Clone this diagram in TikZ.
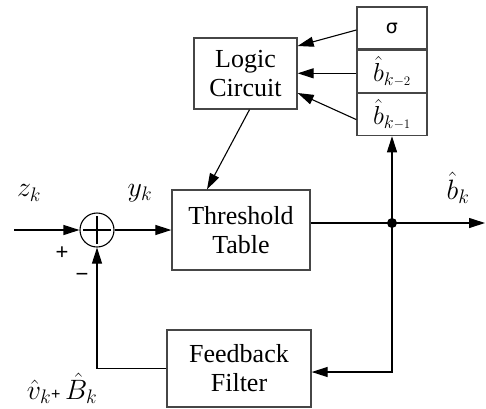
\RequirePackage{fix-cm}
\documentclass[tikz,border=0pt]{standalone}
\usepackage{fontspec}
\setmainfont{Liberation Serif}
\newfontfamily\symfont{DejaVu Sans}
\newfontfamily\signfont{Liberation Sans}
\usepackage{tikz}
\usetikzlibrary{arrows.meta, positioning}
\definecolor{boxgray}{RGB}{70, 70, 70}

\begin{document}
\begin{tikzpicture}[
  x=1pt, y=-1pt,
  block/.style={rectangle, draw=boxgray, line width=1.3pt, align=center,
                inner sep=0pt, font=\fontsize{26}{29}\selectfont},
  cell/.style={rectangle, draw=boxgray, line width=1.3pt, inner sep=0pt,
               minimum width=70pt, minimum height=42pt, font=\fontsize{26}{28}\selectfont},
  arrow/.style={-{Triangle[length=16pt, width=10pt]}, line width=1.1pt},
  wire/.style={line width=1.1pt},
  lbl/.style={inner sep=0pt, font=\fontsize{28}{30}\selectfont},
  sign/.style={inner sep=0pt, font=\signfont\fontsize{22}{24}\selectfont},
]
  \useasboundingbox (0,0) rectangle (486,408);

  % Register stack
  \node[cell] (sig) at (392,28) {{\symfont\fontsize{19}{20}\selectfont σ}};
  \node[cell, below=0pt of sig] (bk2) {$\hat{b}_{k\scriptscriptstyle-2}$};
  \node[cell, below=0pt of bk2] (bk1) {$\hat{b}_{k\scriptscriptstyle-1}$};

  % Main blocks
  \node[block, minimum width=103pt, minimum height=71pt] (logic) at (245.5,73.5) {Logic\\Circuit};
  \node[block, minimum width=138pt, minimum height=80pt] (thr) at (241,230) {Threshold\\Table};
  \node[block, minimum width=144pt, minimum height=77pt] (fb) at (239,368.5) {Feedback\\Filter};
  \node[circle, draw, line width=1.1pt, minimum size=34pt, inner sep=0pt] (sum) at (97,230) {};
  \draw[wire, shorten <=4pt, shorten >=4pt] (sum.north) -- (sum.south);
  \draw[wire, shorten <=4pt, shorten >=4pt] (sum.west) -- (sum.east);

  \coordinate (in) at (14,230);
  \coordinate (jn) at (392,223);
  \coordinate (out) at (485,223);
  \fill (jn) circle (5pt);

  % Labels
  \node[lbl] (zk) at (29,193) {$z_k$};
  \node[lbl] (yk) at (140,193) {$y_k$};
  \node[lbl] (bk) at (458,188) {$\hat{b}_k$};
  \node[sign] (plus) at (62,253) {+};
  \node[sign] (minus) at (82,277) {−};
  \node[lbl] (fbl) at (62,388) {$\hat{v}_k${\signfont\fontsize{16}{16}\selectfont +}\,$\hat{B}_k$};

  % Connectors
  \draw[arrow] (in) -- (sum);
  \draw[arrow] (sum) -- (thr);
  \draw[wire] (thr.east |- jn) -- (jn);
  \draw[arrow] (jn) -- (out);
  \draw[arrow] (jn) -- (bk1);
  \draw[arrow] (jn) |- ([yshift=-3.5pt]fb.east);
  \draw[arrow] (fb.west) -| (sum.south);
  \draw[arrow] ([xshift=4pt]logic.south) -- ([xshift=-34pt]thr.north);
  \draw[arrow] ([yshift=-2pt]sig.west) -- ([yshift=27.5pt]logic.east);
  \draw[arrow] ([yshift=-2pt]bk2.west) -- ([yshift=-2pt]logic.east |- bk2.west);
  \draw[arrow] ([yshift=-5pt]bk1.west) -- ([yshift=-19.5pt]logic.east);
\end{tikzpicture}
\end{document}
